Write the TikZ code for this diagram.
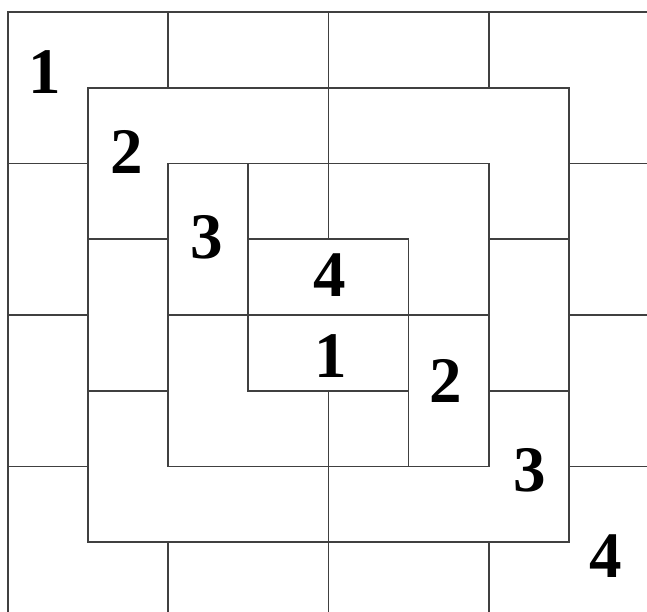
\documentclass[tikz,border=0pt]{standalone}
\usepackage{fontspec}
\setmainfont{Liberation Serif}
\begin{document}
\begin{tikzpicture}[x=80.1pt,y=-75.75pt,
  wall/.style={draw=black!75,line width=1.8pt,line cap=rect},
  num/.style={inner sep=0pt,font=\bfseries\fontsize{65}{70}\selectfont}]
\useasboundingbox (-0.0999,-0.1584) rectangle (7.9775,7.9208);
\clip (-0.0999,-0.1584) rectangle (7.9775,7.9208);
% outer edges
\draw[wall] (8.2,0) -- (0,0) -- (0,8.2);
% ring 1 dividers
\draw[wall] (2,0) -- (2,1) (4,0) -- (4,1) (6,0) -- (6,1);
\draw[wall] (0,2) -- (1,2) (0,4) -- (1,4) (0,6) -- (1,6);
\draw[wall] (7,2) -- (8.2,2) (7,4) -- (8.2,4) (7,6) -- (8.2,6);
\draw[wall] (2,7) -- (2,8.2) (4,7) -- (4,8.2) (6,7) -- (6,8.2);
% ring 2
\draw[wall] (1,1) rectangle (7,7);
\draw[wall] (4,1) -- (4,2) (1,3) -- (2,3) (1,5) -- (2,5)
  (6,3) -- (7,3) (6,5) -- (7,5) (4,6) -- (4,7);
% ring 3
\draw[wall] (2,2) rectangle (6,6);
\draw[wall] (3,2) -- (3,3) (4,2) -- (4,3) (2,4) -- (3,4)
  (5,4) -- (6,4) (4,5) -- (4,6) (5,5) -- (5,6);
% ring 4
\draw[wall] (3,3) rectangle (5,5);
\draw[wall] (3,4) -- (5,4);
% labels
\node[num] (la) at (0.462,0.792) {1};
\node[num] (lb) at (1.486,1.848) {2};
\node[num] (lc) at (2.484,2.970) {3};
\node[num] (ld) at (4.020,3.472) {4};
\node[num] (le) at (4.032,4.541) {1};
\node[num] (lf) at (5.468,4.871) {2};
\node[num] (lg) at (6.517,6.046) {3};
\node[num] (lh) at (7.466,7.182) {4};
\end{tikzpicture}
\end{document}
